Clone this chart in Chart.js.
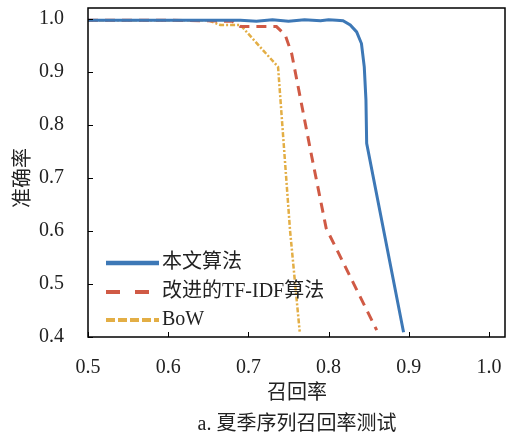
<!DOCTYPE html>
<html>
<head>
<meta charset="utf-8">
<script src="https://cdn.jsdelivr.net/npm/chart.js@4/dist/chart.umd.min.js"></script>
<style>
  html, body { margin: 0; padding: 0; background: #fff; }
  #wrap { width: 511px; height: 434px; }
</style>
</head>
<body>
<div id="wrap"><canvas id="prChart" width="511" height="434"></canvas></div>
<script>
// series names
const seriesNames = ['本文算法', '改进的TF-IDF算法', 'BoW'];

// 本文算法 (recall / precision)
const oursRecall = [0.5, 0.55, 0.6, 0.65, 0.69, 0.71, 0.73, 0.75, 0.77, 0.79, 0.80, 0.81, 0.818, 0.827, 0.835, 0.841, 0.8445, 0.8466, 0.8475, 0.8935];
const oursPrecision = [0.997, 0.997, 0.997, 0.997, 0.997, 0.995, 0.998, 0.995, 0.998, 0.996, 0.998, 0.997, 0.996, 0.988, 0.975, 0.953, 0.909, 0.847, 0.765, 0.409];

// 改进的TF-IDF算法
const tfidfRecall = [0.5, 0.6, 0.68, 0.69, 0.735, 0.746, 0.754, 0.762, 0.779, 0.797, 0.86];
const tfidfPrecision = [0.997, 0.997, 0.995, 0.985, 0.985, 0.969, 0.934, 0.872, 0.74, 0.605, 0.413];

// BoW
const bowRecall = [0.5, 0.6, 0.65, 0.665, 0.69, 0.737, 0.752, 0.764];
const bowPrecision = [0.997, 0.997, 0.997, 0.988, 0.988, 0.909, 0.6, 0.41];

// axis ticks
const xTicks = [0.5, 0.6, 0.7, 0.8, 0.9, 1.0];
const yTicks = [0.4, 0.5, 0.6, 0.7, 0.8, 0.9, 1.0];

const xTitle = '召回率';
const yTitle = '准确率';
const caption = 'a. 夏季序列召回率测试';

const FONT = '"Liberation Serif", "Noto Sans CJK SC", serif';

function toPoints(xs, ys) {
  return xs.map((x, i) => ({ x: x, y: ys[i] }));
}

// frame, inward ticks, titles and legend inside the plot
const decorPlugin = {
  id: 'decor',
  afterDraw(chart) {
    const ctx = chart.ctx;
    const a = chart.chartArea;
    const xs = chart.scales.x, ys = chart.scales.y;
    ctx.save();
    ctx.strokeStyle = '#000';
    ctx.lineWidth = 1.5;
    ctx.setLineDash([]);
    ctx.strokeRect(a.left, a.top, a.right - a.left, a.bottom - a.top);

    ctx.lineWidth = 1;
    ctx.beginPath();
    xTicks.forEach(v => {
      const px = Math.round(xs.getPixelForValue(v)) + 0.5;
      ctx.moveTo(px, a.bottom);
      ctx.lineTo(px, a.bottom - 5);
    });
    yTicks.forEach(v => {
      const py = Math.round(ys.getPixelForValue(v)) + 0.5;
      ctx.moveTo(a.left, py);
      ctx.lineTo(a.left + 5, py);
    });
    ctx.stroke();

    ctx.fillStyle = '#222';
    ctx.font = '20px ' + FONT;
    ctx.textAlign = 'center';
    ctx.textBaseline = 'middle';
    ctx.fillText(xTitle, 297, 394);
    ctx.fillText(caption, 297, 425);

    ctx.save();
    ctx.translate(24, 178);
    ctx.rotate(-Math.PI / 2);
    ctx.fillText(yTitle, 0, 0);
    ctx.restore();

    // legend
    const rows = [263, 292, 320];
    ctx.textAlign = 'left';
    chart.data.datasets.forEach((ds, i) => {
      const y = rows[i];
      ctx.beginPath();
      ctx.strokeStyle = ds.borderColor;
      ctx.lineWidth = ds.legendWidth;
      ctx.setLineDash(ds.legendDash);
      ctx.moveTo(106, y);
      ctx.lineTo(159, y);
      ctx.stroke();
      ctx.setLineDash([]);
      ctx.fillStyle = '#222';
      ctx.fillText(ds.label, 162, y);
    });
    ctx.restore();
  }
};

const ctx = document.getElementById('prChart').getContext('2d');
new Chart(ctx, {
  type: 'scatter',
  data: {
    datasets: [
      {
        label: seriesNames[0],
        data: toPoints(oursRecall, oursPrecision),
        showLine: true,
        borderColor: '#3D78B6',
        borderWidth: 3,
        pointRadius: 0,
        legendWidth: 4.5,
        legendDash: []
      },
      {
        label: seriesNames[1],
        data: toPoints(tfidfRecall, tfidfPrecision),
        showLine: true,
        borderColor: '#D05A45',
        borderWidth: 3,
        borderDash: [10, 7],
        pointRadius: 0,
        legendWidth: 4,
        legendDash: [14, 15]
      },
      {
        label: seriesNames[2],
        data: toPoints(bowRecall, bowPrecision),
        showLine: true,
        borderColor: '#E3AE45',
        borderWidth: 2.5,
        borderDash: [5, 2, 2, 2],
        pointRadius: 0,
        legendWidth: 4,
        legendDash: [9, 3]
      }
    ]
  },
  options: {
    responsive: false,
    animation: false,
    layout: { padding: { left: 0, right: 6, top: 8, bottom: 0 } },
    plugins: {
      legend: { display: false },
      tooltip: { enabled: false }
    },
    scales: {
      x: {
        type: 'linear',
        min: 0.5,
        max: 1.02,
        grid: { display: false },
        border: { display: false },
        afterBuildTicks: s => { s.ticks = xTicks.map(v => ({ value: v })); },
        afterFit: s => { s.height = 97; s.paddingLeft = 0; s.paddingRight = 0; },
        ticks: {
          color: '#222',
          padding: 11,
          maxRotation: 0,
          font: { family: FONT, size: 20 },
          callback: v => v.toFixed(1)
        }
      },
      y: {
        type: 'linear',
        min: 0.4,
        max: 1.02,
        grid: { display: false },
        border: { display: false },
        afterBuildTicks: s => { s.ticks = yTicks.map(v => ({ value: v })); },
        afterFit: s => { s.width = 88; s.paddingTop = 0; s.paddingBottom = 0; },
        ticks: {
          color: '#222',
          padding: 16,
          font: { family: FONT, size: 20 },
          callback: v => v.toFixed(1)
        }
      }
    }
  },
  plugins: [decorPlugin]
});
</script>
</body>
</html>
